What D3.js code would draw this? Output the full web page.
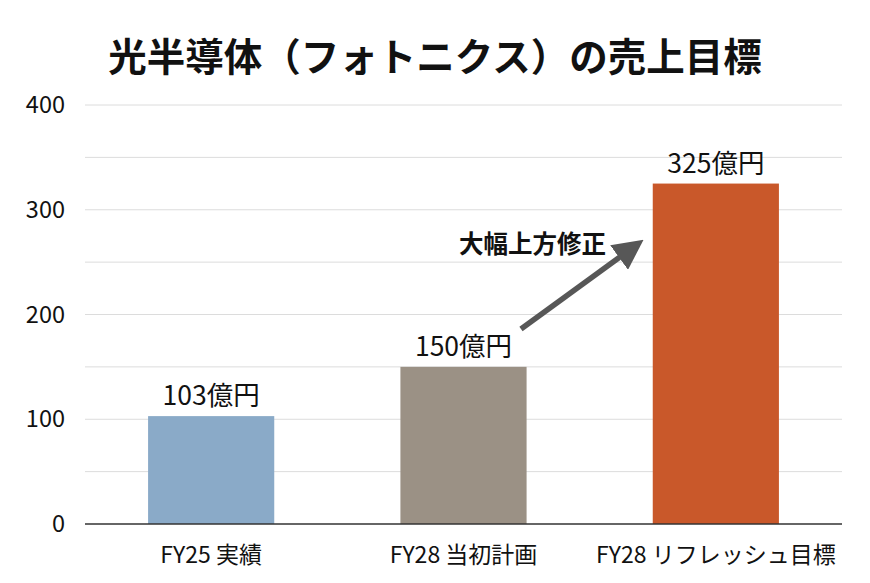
<!DOCTYPE html>
<html><head><meta charset="utf-8">
<script src="https://cdn.jsdelivr.net/npm/d3@7"></script>
<style>body{margin:0;background:#fff;} svg{display:block;}</style>
</head><body>
<svg id="c" width="870" height="583"></svg>
<script>
const categories = ["FY25 実績", "FY28 当初計画", "FY28 リフレッシュ目標"];
const values = [103, 150, 325];
const valueLabels = ["103億円", "150億円", "325億円"];
const colors = ["#8aaac8", "#9b9185", "#c9582a"];
const yTicks = [0, 100, 200, 300, 400];
const gridTicks = [0, 50, 100, 150, 200, 250, 300, 350, 400];
const title = "光半導体（フォトニクス）の売上目標";
const annotation = "大幅上方修正";

(function () {
const font = "'Noto Sans CJK JP','Noto Sans',sans-serif";
const svg = d3.select("#c");
const mLeft = 85, mRight = 842, mTop = 105, mBottom = 524;

const x = d3.scaleBand().domain(categories).range([mLeft, mRight]).paddingInner(0.5).paddingOuter(0.25);
const y = d3.scaleLinear().domain([0, 400]).range([mBottom, mTop]);

svg.append("text").attr("x", 435).attr("y", 71).attr("text-anchor", "middle")
  .attr("font-family", font).attr("font-weight", 700).attr("font-size", 38.5).attr("fill", "#111").text(title);

// grid
svg.append("g").selectAll("line").data(gridTicks.filter(d => d > 0)).join("line")
  .attr("x1", mLeft).attr("x2", mRight).attr("y1", d => y(d)).attr("y2", d => y(d))
  .attr("stroke", "#dcdcdc").attr("stroke-width", 1);

// y axis labels
const ya = svg.append("g").attr("transform", `translate(${mLeft},0)`)
  .call(d3.axisLeft(y).tickValues(yTicks).tickSize(0).tickPadding(20));
ya.select(".domain").remove();
ya.selectAll("text").attr("font-family", font).attr("font-size", 23.5).attr("fill", "#111");

// bars
svg.append("g").selectAll("rect").data(values).join("rect")
  .attr("x", (d, i) => x(categories[i])).attr("width", x.bandwidth())
  .attr("y", d => y(d)).attr("height", d => y(0) - y(d))
  .attr("fill", (d, i) => colors[i]);

// value labels
svg.append("g").selectAll("text").data(values).join("text")
  .attr("x", (d, i) => x(categories[i]) + x.bandwidth() / 2)
  .attr("y", d => y(d) - 11).attr("text-anchor", "middle")
  .attr("font-family", font).attr("font-size", 26.5).attr("fill", "#111")
  .text((d, i) => valueLabels[i]);

// x axis
const xa = svg.append("g").attr("transform", `translate(0,${mBottom})`)
  .call(d3.axisBottom(x).tickSize(0).tickPadding(18));
xa.select(".domain").attr("stroke", "#333").attr("stroke-width", 1.5).attr("d", `M${mLeft},0H${mRight}`);
xa.selectAll("text").attr("font-family", font).attr("font-size", 23).attr("fill", "#111").attr("dy", "0.9em");

// arrow
const defs = svg.append("defs");
defs.append("marker").attr("id", "ah").attr("viewBox", "0 0 10 10").attr("refX", 2).attr("refY", 5)
  .attr("markerWidth", 5.5).attr("markerHeight", 5.5).attr("orient", "auto")
  .append("path").attr("d", "M0,0L10,5L0,10Z").attr("fill", "#575757");
svg.append("line").attr("x1", 521).attr("y1", 329).attr("x2", 624).attr("y2", 254)
  .attr("stroke", "#575757").attr("stroke-width", 5.5).attr("marker-end", "url(#ah)");

svg.append("text").attr("x", 606).attr("y", 253).attr("text-anchor", "end")
  .attr("font-family", font).attr("font-weight", 700).attr("font-size", 24.5).attr("fill", "#111").text(annotation);
})();
</script>
</body></html>
